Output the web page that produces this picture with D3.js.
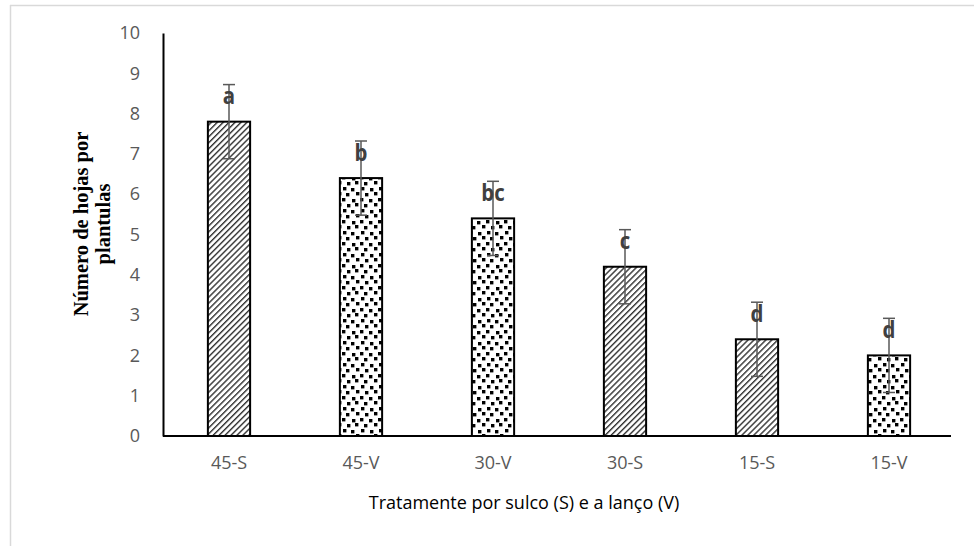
<!DOCTYPE html>
<html>
<head>
<meta charset="utf-8">
<script src="https://cdn.jsdelivr.net/npm/d3@7"></script>
<style>
  html, body { margin: 0; padding: 0; background: #fff; }
  svg { display: block; }
</style>
</head>
<body>
<svg id="chart" width="974" height="546"></svg>
<script>
// Treatments, mean leaf counts, standard error and significance letters
const categories = ["45-S", "45-V", "30-V", "30-S", "15-S", "15-V"];
const values = [7.8, 6.4, 5.4, 4.2, 2.4, 2.0];
const errors = [0.92, 0.92, 0.92, 0.92, 0.92, 0.92];
const letters = ["a", "b", "bc", "c", "d", "d"];
const fills = ["hatch", "dots", "dots", "hatch", "hatch", "dots"];
const yTicks = [0, 1, 2, 3, 4, 5, 6, 7, 8, 9, 10];

const svg = d3.select("#chart");
const margin = { left: 163, right: 19, top: 33, bottom: 110 };
const W = 974, H = 546;

// outer frame of the chart area
svg.append("line").attr("x1", 10).attr("x2", 974).attr("y1", 5.5).attr("y2", 5.5)
  .attr("stroke", "#d9d9d9").attr("stroke-width", 1.5);
svg.append("line").attr("x1", 10.5).attr("x2", 10.5).attr("y1", 5).attr("y2", H)
  .attr("stroke", "#d9d9d9").attr("stroke-width", 1.5);

const x = d3.scaleBand().domain(categories)
  .range([margin.left, W - margin.right]).paddingInner(0.68).paddingOuter(0.34);
const y = d3.scaleLinear().domain([0, 10]).range([H - margin.bottom, margin.top]);

// fill patterns
const defs = svg.append("defs");
const hatch = defs.append("pattern").attr("id", "hatch")
  .attr("patternUnits", "userSpaceOnUse").attr("width", 4.2).attr("height", 4.2)
  .attr("patternTransform", "rotate(45)");
hatch.append("rect").attr("width", 4.2).attr("height", 4.2).attr("fill", "#fff");
hatch.append("rect").attr("x", 0).attr("width", 1.4).attr("height", 4.2).attr("fill", "#333");

// confetti: staggered rows of small squares with a little jitter
const dots = defs.append("pattern").attr("id", "dots")
  .attr("patternUnits", "userSpaceOnUse").attr("width", 36).attr("height", 22);
dots.append("rect").attr("width", 36).attr("height", 22).attr("fill", "#fff");
const dotPos = [
  [0, 0], [9, 1], [18, 0], [28, 1],
  [4, 6], [14, 5], [23, 6], [31, 5],
  [1, 11], [10, 12], [19, 11], [27, 12],
  [5, 17], [14, 16], [22, 17], [32, 16]
];
dots.selectAll("rect.d").data(dotPos).enter().append("rect").attr("class", "d")
  .attr("x", d => d[0]).attr("y", d => d[1]).attr("width", 3.4).attr("height", 3.4)
  .attr("fill", "#000");

const data = categories.map((c, i) => ({ c, v: values[i], e: errors[i], l: letters[i], f: fills[i] }));

// bars
svg.append("g").selectAll("rect").data(data).enter().append("rect")
  .attr("x", d => x(d.c)).attr("width", x.bandwidth())
  .attr("y", d => y(d.v)).attr("height", d => y(0) - y(d.v))
  .attr("fill", d => `url(#${d.f})`)
  .attr("stroke", "#000").attr("stroke-width", 2);

// error bars
const eb = svg.append("g").attr("stroke", "#595959").attr("stroke-width", 1.5).attr("fill", "none");
data.forEach(d => {
  const cx = x(d.c) + x.bandwidth() / 2;
  eb.append("line").attr("x1", cx).attr("x2", cx).attr("y1", y(d.v + d.e)).attr("y2", y(d.v - d.e));
  eb.append("line").attr("x1", cx - 6).attr("x2", cx + 6).attr("y1", y(d.v + d.e)).attr("y2", y(d.v + d.e));
  eb.append("line").attr("x1", cx - 6).attr("x2", cx + 6).attr("y1", y(d.v - d.e)).attr("y2", y(d.v - d.e));
});

// significance letters
svg.append("g").selectAll("text").data(data).enter().append("text")
  .attr("transform", d => `translate(${x(d.c) + x.bandwidth() / 2},${y(d.v + d.e) + 19.5}) scale(0.85,1)`)
  .attr("text-anchor", "middle")
  .attr("font-family", "'Open Sans', sans-serif").attr("font-weight", "bold")
  .attr("font-size", 24).attr("fill", "#404040")
  .text(d => d.l);

// axes
const yAxis = d3.axisLeft(y).tickValues(yTicks).tickSize(0).tickPadding(23).tickFormat(d3.format("d"));
const gy = svg.append("g").attr("transform", `translate(${margin.left},0)`).call(yAxis);
gy.select(".domain").attr("stroke", "#000").attr("stroke-width", 2);
gy.selectAll("text").attr("font-family", "'Open Sans', sans-serif").attr("font-size", 18)
  .attr("fill", "#595959");

const xAxis = d3.axisBottom(x).tickSize(0).tickPadding(20);
const gx = svg.append("g").attr("transform", `translate(0,${y(0)})`).call(xAxis);
gx.select(".domain").attr("stroke", "#000").attr("stroke-width", 2)
  .attr("d", `M${margin.left},0H${W - margin.right - 4}`);
gx.selectAll("text").attr("font-family", "'Open Sans', sans-serif").attr("font-size", 18)
  .attr("fill", "#595959");

// axis titles
svg.append("text").attr("x", 524).attr("y", 509).attr("text-anchor", "middle")
  .attr("font-family", "'Open Sans', sans-serif").attr("font-size", 18).attr("fill", "#000")
  .text("Tratamente por sulco (S) e a lanço (V)");

const yt = svg.append("text").attr("transform", "translate(88,224) rotate(-90)")
  .attr("text-anchor", "middle")
  .attr("font-family", "'Liberation Serif', 'Times New Roman', serif").attr("font-weight", "bold")
  .attr("font-size", 20.5).attr("fill", "#000");
yt.append("tspan").attr("x", 0).attr("dy", 0).text("Número de hojas por");
yt.append("tspan").attr("x", 0).attr("dy", 22).text("plantulas");
</script>
</body>
</html>
